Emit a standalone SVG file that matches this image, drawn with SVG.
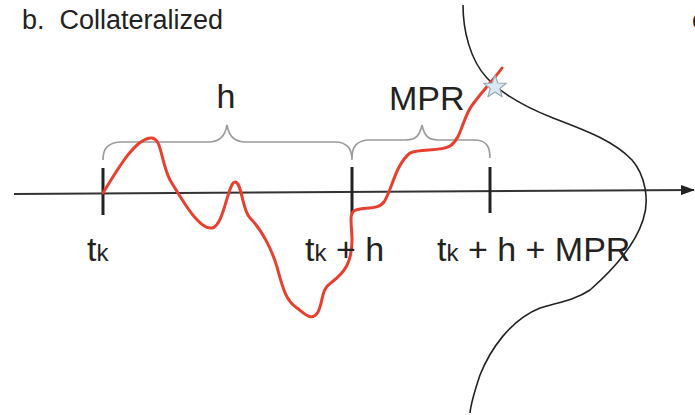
<svg xmlns="http://www.w3.org/2000/svg" width="695" height="415" viewBox="0 0 695 415">
<defs>
<style>
text{font-family:"Liberation Sans",Arial,sans-serif;fill:#222;}
.lbl{font-size:34px;}
.sub{font-size:24px;}
.brace{fill:none;stroke:#9a9a9a;stroke-width:1.6;}
.tick{stroke:#222;stroke-width:3;}
</style>
<marker id="arr" markerWidth="14" markerHeight="10" refX="13" refY="5" orient="auto" markerUnits="userSpaceOnUse">
<path d="M0,0 L14,5 L0,10 Z" fill="#222"/>
</marker>
</defs>
<rect width="695" height="415" fill="#fff"/>
<text x="22" y="29" style="font-size:27px;white-space:pre">b.  Collateralized</text>
<text x="692" y="29" style="font-size:27px">c</text>

<g id="axis">
<line x1="14" y1="194" x2="694" y2="190" stroke="#333" stroke-width="2" marker-end="url(#arr)"/>
</g>

<g id="ticks">
<line class="tick" x1="103" y1="168" x2="103" y2="215"/>
<line class="tick" x1="352" y1="167" x2="352" y2="214"/>
<line class="tick" x1="490" y1="167" x2="490" y2="213"/>
</g>

<g id="brace-h">
<path class="brace" d="M103,160 C103,148 108,143 120,142 L208,142 C220,142 225,136 227,125 C229,136 234,142 246,142 L335,142 C347,142 352,148 352,160"/>
<text class="lbl" x="226" y="108" text-anchor="middle">h</text>
</g>

<g id="brace-mpr">
<path class="brace" d="M352,158 C352,146 357,141 368,140 L406,140 C417,140 420,134 422,125 C424,134 427,140 438,140 L474,140 C486,140 490,146 490,158"/>
<text class="lbl" x="389" y="110">MPR</text>
</g>

<g id="density">
<path d="M463,5 C463,30 470,60 487,78 C500,92 520,105 553,118 C590,132 615,142 632,160 C645,175 650,200 643,220 C635,245 615,268 590,290 C575,300 560,302 540,308 C510,320 490,350 480,375 C475,390 471,402 470,413" fill="none" stroke="#222" stroke-width="1.6"/>
</g>

<g id="path">
<path d="M103,193 C120,165 135,140 150,138 C162,136 160,160 170,180 C185,205 200,230 212,228 C224,226 228,182 235,182 C242,182 242,210 250,218 C262,230 272,250 277,267 C282,285 285,300 297,308 C305,314 312,322 318,312 C324,300 320,290 332,282 C345,272 352,262 352,240 C352,225 348,212 356,210 C365,207 378,210 384,202 C392,190 395,165 410,153 C420,148 440,152 450,146 C462,138 462,118 473,104 C485,88 495,78 502,68" fill="none" stroke="#e8402f" stroke-width="3" stroke-linecap="round" stroke-linejoin="round"/>
</g>

<g id="star">
<polygon points="495,75 497.9,83 506.4,83.3 499.8,88.5 502.1,96.7 495,92 487.9,96.7 490.2,88.5 483.6,83.3 492.1,83" fill="#d8e8f4" stroke="#9aa8b4" stroke-width="1.2" stroke-linejoin="round"/>
</g>

<g id="labels">
<text class="lbl" x="87" y="261">t<tspan class="sub">k</tspan></text>
<text class="lbl" x="305" y="261">t<tspan class="sub">k</tspan> + h</text>
<text class="lbl" x="437" y="261">t<tspan class="sub">k</tspan> + h + MPR</text>
</g>
</svg>
